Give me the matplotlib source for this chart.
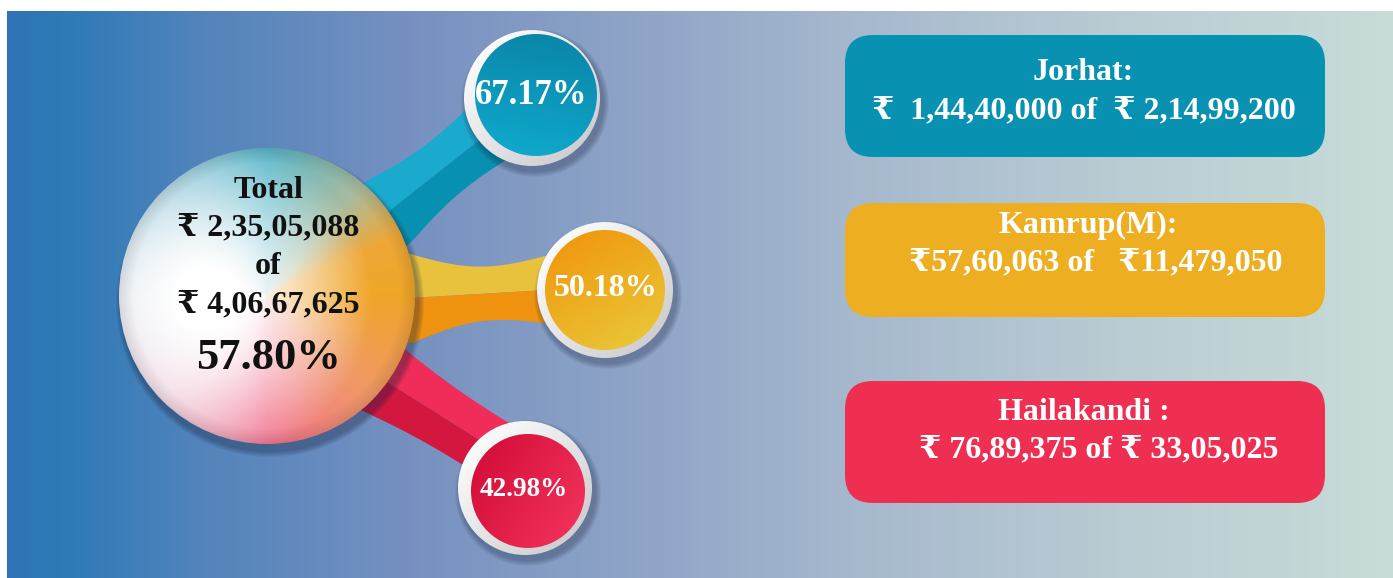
import numpy as np
import matplotlib
matplotlib.use('Agg')
import matplotlib.pyplot as plt
from matplotlib.patches import Circle, FancyBboxPatch, Polygon
from matplotlib.colors import to_rgb

# ---------------- data ----------------
districts = ['Jorhat', 'Kamrup(M)', 'Hailakandi']
spent = ['1,44,40,000', '57,60,063', '76,89,375']
allotted = ['2,14,99,200', '11,479,050', '33,05,025']
percent = [67.17, 50.18, 42.98]
total_spent = '2,35,05,088'
total_allotted = '4,06,67,625'
total_percent = 57.80

# ---------------- styles / layout ----------------
FONT = ['Liberation Serif', 'DejaVu Serif', 'DejaVu Sans', 'Noto Sans']
W, H = 1393, 578
title_fmt = ['{}:', '{}:', '{} :']
line_fmt = ['\u20b9  {} of  \u20b9 {}', '\u20b9{} of   \u20b9{}', '\u20b9 {} of \u20b9 {}']
box_colors = ['#0891b0', '#eeae22', '#ee2f52']
box_y = [35, 203, 381]
box_h = [122, 114, 122]
line_y = [(72, 111), (225, 263), (412, 450)]
line_x = [(1083, 1084), (1088, 1096), (1084, 1099)]
bubble_outer = [(532, 98, 68), (605, 290, 68), (525, 488, 67)]
bubble_inner = [(536, 95, 61), (605, 290, 60), (528, 491, 57)]
bubble_grad = [('#0a86a8', '#0fa8cc', 100), ('#f09a10', '#eac435', 60), ('#d5103a', '#f0305a', 30)]
pct_pos = [(531, 95), (606, 288), (524, 489)]
pct_size = [25, 23, 19.5]
band_geo = [  # A, B, wa, wb, waist
    ((388, 212), (492, 130), 38, 33, 6),
    ((410, 298), (547, 290), 45, 34, 12),
    ((373, 373), (497, 451), 39, 30, 3),
]
band_cols = [('#1aaacd', '#0890b2'), ('#e9c23d', '#ef920f'), ('#ef2d58', '#d3173f')]

fig = plt.figure(figsize=(W / 100, H / 100), dpi=100)
ax = fig.add_axes([0, 0, 1, 1])
ax.axis('off')

# ---------------- background gradient ----------------
gx = np.array([7, 70, 200, 400, 700, 850, 1100, 1393])
gc = np.array([to_rgb(c) for c in ['#3074b5', '#2e7ab7', '#5284bb', '#7590c0',
                                    '#96aac9', '#a6b8cd', '#b8cbd3', '#c8dcd8']])
xs = np.arange(7, W)
bg = np.stack([np.interp(xs, gx, gc[:, k]) for k in range(3)], axis=-1)[None, :, :]
bg = np.repeat(bg, 4, axis=0)
ax.imshow(bg, extent=[7, W, H, 11], aspect='auto', zorder=0, interpolation='bilinear')


def grad_circle(cx, cy, r, c1, c2, angle_deg, z):
    n = 240
    v = np.linspace(-1, 1, n)
    X, Y = np.meshgrid(v, v)
    a = np.deg2rad(angle_deg)
    s = np.clip((X * np.cos(a) + Y * np.sin(a) + 1) / 2, 0, 1)
    img = (1 - s)[..., None] * np.array(to_rgb(c1)) + s[..., None] * np.array(to_rgb(c2))
    im = ax.imshow(img, extent=[cx - r, cx + r, cy + r, cy - r], zorder=z,
                   interpolation='bilinear', aspect='auto')
    clip = Circle((cx, cy), r, transform=ax.transData)
    im.set_clip_path(clip)


def shadow(cx, cy, r, dx, dy, z, alpha=0.06, layers=6):
    for k in range(layers):
        ax.add_patch(Circle((cx + dx, cy + dy), r + layers - k, color='#1a2540',
                            alpha=alpha, lw=0, zorder=z))


def band(A, B, wa, wb, waist, c_plus, c_minus, z, ext=30):
    A = np.array(A, float); B = np.array(B, float)
    t = np.linspace(0, 1, 80)
    P = (1 - t)[:, None] * A + t[:, None] * B
    u = (B - A) / np.linalg.norm(B - A)
    N = np.array([u[1], -u[0]])
    w = wa + (wb - wa) * t - waist * np.sin(np.pi * t)
    P = np.vstack([A - u * ext, P, B + u * ext])
    w = np.concatenate([[wa], w, [wb]])
    up = P + N[None, :] * w[:, None]
    lo = P - N[None, :] * w[:, None]
    ax.add_patch(Polygon(np.vstack([P, up[::-1]]), closed=True, fc=c_plus, ec='none', zorder=z))
    ax.add_patch(Polygon(np.vstack([P, lo[::-1]]), closed=True, fc=c_minus, ec='none', zorder=z))


# ---------------- bands ----------------
for (A, B, wa, wb, waist), (c1, c2) in zip(band_geo, band_cols):
    band(A, B, wa, wb, waist, c1, c2, z=2)

# ---------------- bubbles ----------------
for i, p in enumerate(percent):
    ox, oy, orr = bubble_outer[i]
    shadow(ox, oy, orr, 3, 5, z=3)
    grad_circle(ox, oy, orr, '#fbfbfb', '#cfcfd2', 45, z=4)
    ix, iy, ir = bubble_inner[i]
    c1, c2, ang = bubble_grad[i]
    grad_circle(ix, iy, ir, c1, c2, ang, z=5)
    ax.text(pct_pos[i][0], pct_pos[i][1], f'{p:.2f}%', ha='center', va='center', color='white',
            fontsize=pct_size[i], fontweight='bold', family=FONT, zorder=8)

# ---------------- central circle ----------------
ccx, ccy, cr = 267, 296, 148
shadow(ccx, ccy, cr, 3, 7, z=5, alpha=0.07)
n = 400
v = np.linspace(-1, 1, n)
X, Y = np.meshgrid(v, v)
ang = np.degrees(np.arctan2(-Y, X)) % 360
anch_a = np.array([0, 25, 50, 90, 135, 180, 225, 270, 315, 360])
anch_c = np.array([to_rgb(c) for c in ['#f0a628', '#eea838', '#a8bca0', '#58b6c8', '#8ec4d6',
                                        '#cfdbe8', '#eec0d2', '#f27490', '#f09868', '#f0a628']])
edge = np.stack([np.interp(ang, anch_a, anch_c[:, k]) for k in range(3)], axis=-1)
d = np.sqrt((X + 0.4) ** 2 + (Y - 0.02) ** 2) / 1.3
tw = np.clip((d - 0.15) / 0.7, 0, 1) ** 1.2
img = (1 - tw)[..., None] * np.ones(3) + tw[..., None] * edge
rim = np.clip((np.sqrt(X ** 2 + Y ** 2) - 0.9) / 0.1, 0, 1)
img = img * (1 - 0.10 * rim[..., None])
im = ax.imshow(img, extent=[ccx - cr, ccx + cr, ccy + cr, ccy - cr], zorder=6,
               interpolation='bilinear', aspect='auto')
im.set_clip_path(Circle((ccx, ccy), cr, transform=ax.transData))

ctext = [('Total', 190, 23), (f'\u20b9 {total_spent}', 228, 23), ('of', 267, 23),
         (f'\u20b9 {total_allotted}', 305, 23), (f'{total_percent:.2f}%', 358, 32)]
for s, y, fs in ctext:
    ax.text(268, y, s, ha='center', va='center', color='#111111', fontsize=fs,
            fontweight='bold', family=FONT, zorder=9)

# ---------------- boxes ----------------
for i, name in enumerate(districts):
    ax.add_patch(FancyBboxPatch((845, box_y[i]), 480, box_h[i],
                                boxstyle='round,pad=0,rounding_size=28',
                                fc=box_colors[i], ec='none', zorder=3))
    ax.text(line_x[i][0], line_y[i][0], title_fmt[i].format(name), ha='center', va='center',
            color='white', fontsize=23, fontweight='bold', family=FONT, zorder=8)
    ax.text(line_x[i][1], line_y[i][1], line_fmt[i].format(spent[i], allotted[i]),
            ha='center', va='center', color='white', fontsize=23, fontweight='bold',
            family=FONT, zorder=8)

ax.set_xlim(0, W)
ax.set_ylim(H, 0)
fig.savefig('out.png', dpi=100, facecolor='white')
